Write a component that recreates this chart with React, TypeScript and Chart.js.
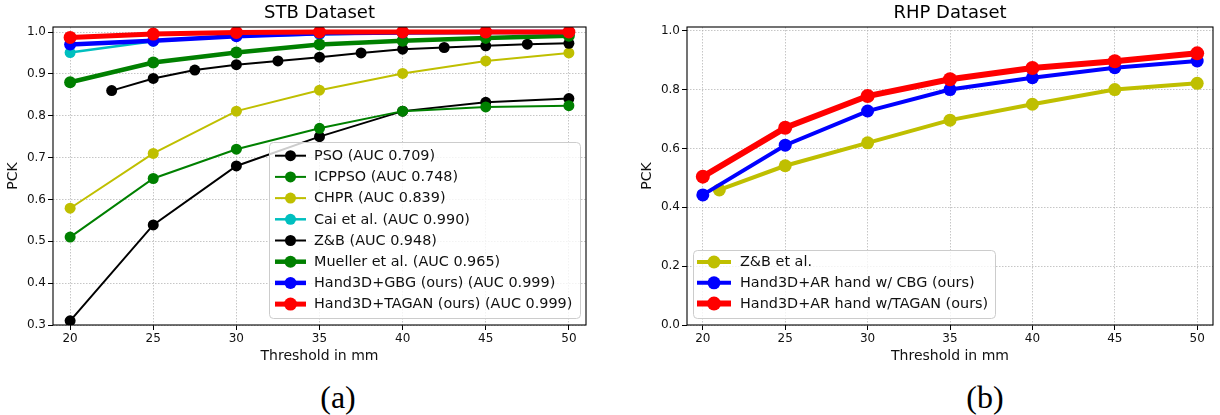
import React, { useEffect, useRef } from "react";
import { Chart, registerables } from "chart.js";

Chart.register(...registerables);

// ---------- data: STB (left) ----------
const stbThresholds = [20, 25, 30, 35, 40, 45, 50];
const zbThresholds = [22.5, 25, 27.5, 30, 32.5, 35, 37.5, 40, 42.5, 45, 47.5, 50];
const psoValues = [0.31, 0.539, 0.68, 0.75, 0.811, 0.832, 0.841];
const icppsoValues = [0.51, 0.65, 0.72, 0.77, 0.811, 0.821, 0.824];
const chprValues = [0.579, 0.71, 0.811, 0.861, 0.901, 0.931, 0.95];
const caiValues = [0.951, 0.978, 0.99, 0.994, 0.998, 0.999, 1.0];
const zbValues = [0.86, 0.889, 0.909, 0.922, 0.931, 0.94, 0.95, 0.959, 0.963, 0.967, 0.971, 0.973];
const muellerValues = [0.88, 0.927, 0.951, 0.97, 0.979, 0.986, 0.991];
const gbgValues = [0.97, 0.979, 0.99, 0.997, 0.999, 1.0, 1.0];
const taganValues = [0.987, 0.995, 0.999, 1.0, 1.0, 1.0, 1.0];
const stbYTicks = [0.3, 0.4, 0.5, 0.6, 0.7, 0.8, 0.9, 1.0];

// ---------- data: RHP (right) ----------
const rhpThresholds = [20, 25, 30, 35, 40, 45, 50];
const rhpZbThresholds = [21, 25, 30, 35, 40, 45, 50];
const rhpZbValues = [0.459, 0.541, 0.619, 0.696, 0.75, 0.8, 0.821];
const rhpCbgValues = [0.442, 0.611, 0.727, 0.8, 0.84, 0.874, 0.897];
const rhpTaganValues = [0.504, 0.67, 0.778, 0.835, 0.873, 0.896, 0.923];
const rhpYTicks = [0.0, 0.2, 0.4, 0.6, 0.8, 1.0];

const xTicks = [20, 25, 30, 35, 40, 45, 50];

const FONT = "'DejaVu Sans', sans-serif";
const TXT = "#111";

type Series = { label: string; xs: number[]; ys: number[]; color: string; lw: number; r: number };

const stbSeries: Series[] = [
  { label: "PSO (AUC 0.709)", xs: stbThresholds, ys: psoValues, color: "#000000", lw: 2, r: 5.5 },
  { label: "ICPPSO (AUC 0.748)", xs: stbThresholds, ys: icppsoValues, color: "#008000", lw: 2, r: 5.5 },
  { label: "CHPR (AUC 0.839)", xs: stbThresholds, ys: chprValues, color: "#bfbf00", lw: 2, r: 5.5 },
  { label: "Cai et al. (AUC 0.990)", xs: stbThresholds, ys: caiValues, color: "#00bfbf", lw: 2.5, r: 5.5 },
  { label: "Z&B (AUC 0.948)", xs: zbThresholds, ys: zbValues, color: "#000000", lw: 2, r: 5.5 },
  { label: "Mueller et al. (AUC 0.965)", xs: stbThresholds, ys: muellerValues, color: "#008000", lw: 4.5, r: 6 },
  { label: "Hand3D+GBG (ours) (AUC 0.999)", xs: stbThresholds, ys: gbgValues, color: "#0000ff", lw: 4.5, r: 6 },
  { label: "Hand3D+TAGAN (ours) (AUC 0.999)", xs: stbThresholds, ys: taganValues, color: "#ff0000", lw: 5, r: 6.5 },
];

const rhpSeries: Series[] = [
  { label: "Z&B et al.", xs: rhpZbThresholds, ys: rhpZbValues, color: "#bfbf00", lw: 4, r: 6.5 },
  { label: "Hand3D+AR hand w/ CBG (ours)", xs: rhpThresholds, ys: rhpCbgValues, color: "#0000ff", lw: 4, r: 6.5 },
  { label: "Hand3D+AR hand w/TAGAN (ours)", xs: rhpThresholds, ys: rhpTaganValues, color: "#ff0000", lw: 6, r: 7 },
];

type LegendBox = { x0: number; y0: number; x1: number; y1: number; row0: number; step: number; hx0: number; hx1: number; tx: number; size: number };

const framePlugin = {
  id: "frameAndLegend",
  afterDraw(chart: any) {
    const { ctx, chartArea: a } = chart;
    ctx.save();
    ctx.strokeStyle = "#000";
    ctx.lineWidth = 1.1;
    ctx.strokeRect(a.left, a.top, a.right - a.left, a.bottom - a.top);
    const lg: LegendBox | undefined = chart.options.plugins.customLegend;
    if (lg) {
      const r = 4;
      ctx.beginPath();
      ctx.moveTo(lg.x0 + r, lg.y0);
      ctx.arcTo(lg.x1, lg.y0, lg.x1, lg.y1, r);
      ctx.arcTo(lg.x1, lg.y1, lg.x0, lg.y1, r);
      ctx.arcTo(lg.x0, lg.y1, lg.x0, lg.y0, r);
      ctx.arcTo(lg.x0, lg.y0, lg.x1, lg.y0, r);
      ctx.closePath();
      ctx.fillStyle = "rgba(255,255,255,0.8)";
      ctx.fill();
      ctx.strokeStyle = "#cccccc";
      ctx.lineWidth = 1;
      ctx.stroke();
      chart.data.datasets.forEach((ds: any, i: number) => {
        const y = lg.row0 + i * lg.step;
        ctx.beginPath();
        ctx.strokeStyle = ds.borderColor;
        ctx.lineWidth = ds.borderWidth;
        ctx.moveTo(lg.hx0, y);
        ctx.lineTo(lg.hx1, y);
        ctx.stroke();
        ctx.beginPath();
        ctx.fillStyle = ds.borderColor;
        ctx.arc((lg.hx0 + lg.hx1) / 2, y, ds.pointRadius, 0, Math.PI * 2);
        ctx.fill();
        ctx.fillStyle = TXT;
        ctx.font = `${lg.size}px ${FONT}`;
        ctx.textBaseline = "middle";
        ctx.textAlign = "left";
        ctx.fillText(ds.label, lg.tx, y + 0.5);
      });
    }
    ctx.restore();
  },
};

function buildConfig(p: {
  title: string;
  series: Series[];
  xMin: number;
  xMax: number;
  yMin: number;
  yMax: number;
  yTicks: number[];
  padRight: number;
  legend: LegendBox;
}): any {
  const n = p.series.length;
  const tickFont = { family: FONT, size: 12 };
  const gridCfg = { color: "rgba(176,176,176,0.9)", lineWidth: 0.8, tickColor: "#000", tickLength: 5, tickWidth: 1 };
  return {
    type: "line",
    data: {
      datasets: p.series.map((s, i) => ({
        label: s.label,
        data: s.xs.map((x, j) => ({ x, y: s.ys[j] })),
        borderColor: s.color,
        backgroundColor: s.color,
        pointBackgroundColor: s.color,
        pointBorderColor: s.color,
        borderWidth: s.lw,
        pointRadius: s.r,
        pointHoverRadius: s.r,
        pointBorderWidth: 0,
        fill: false,
        tension: 0,
        order: n - 1 - i,
      })),
    },
    options: {
      animation: false,
      responsive: false,
      maintainAspectRatio: false,
      events: [],
      layout: { padding: { left: 0, right: p.padRight, top: 0, bottom: 0 } },
      plugins: {
        legend: { display: false },
        tooltip: { enabled: false },
        title: {
          display: true,
          text: p.title,
          fullSize: false,
          color: "#000",
          font: { family: FONT, size: 18, weight: "normal", lineHeight: 1.2 },
          padding: { top: 3, bottom: 2.4 },
        },
        customLegend: p.legend,
      },
      scales: {
        x: {
          type: "linear",
          min: p.xMin,
          max: p.xMax,
          afterFit: (s: any) => {
            s.height = 40;
          },
          afterBuildTicks: (s: any) => {
            s.ticks = xTicks.map((v) => ({ value: v }));
          },
          ticks: { font: tickFont, color: TXT, padding: 2, maxRotation: 0, autoSkip: false, callback: (v: any) => String(v) },
          grid: gridCfg,
          border: { display: false, dash: [1.5, 1.5] },
          title: { display: true, text: "Threshold in mm", color: TXT, font: { family: FONT, size: 14 }, padding: { top: 2, bottom: 0 } },
        },
        y: {
          type: "linear",
          min: p.yMin,
          max: p.yMax,
          afterFit: (s: any) => {
            s.width = 53;
          },
          afterBuildTicks: (s: any) => {
            s.ticks = p.yTicks.map((v) => ({ value: v }));
          },
          ticks: { font: tickFont, color: TXT, padding: 2, autoSkip: false, callback: (v: any) => Number(v).toFixed(1) },
          grid: gridCfg,
          border: { display: false, dash: [1.5, 1.5] },
          title: { display: true, text: "PCK", color: TXT, font: { family: FONT, size: 14 }, padding: { top: 5, bottom: 0 } },
        },
      },
    },
    plugins: [framePlugin],
  };
}

function ChartCanvas(props: { config: any; left: number; width: number; height: number }) {
  const ref = useRef<HTMLCanvasElement | null>(null);
  useEffect(() => {
    if (!ref.current) return;
    const chart = new Chart(ref.current, props.config);
    return () => chart.destroy();
  }, []);
  return (
    <canvas
      ref={ref}
      width={props.width}
      height={props.height}
      style={{ position: "absolute", left: props.left, top: 0, width: props.width, height: props.height }}
    />
  );
}

const stbConfig = buildConfig({
  title: "STB Dataset",
  series: stbSeries,
  xMin: 18.97,
  xMax: 51.03,
  yMin: 0.3,
  yMax: 1.012,
  yTicks: stbYTicks,
  padRight: 14,
  legend: { x0: 269.5, y0: 142.5, x1: 580.5, y1: 318.5, row0: 155.7, step: 21.2, hx0: 275, hx1: 306, tx: 314, size: 14.4 },
});

const rhpConfig = buildConfig({
  title: "RHP Dataset",
  series: rhpSeries,
  xMin: 19.04,
  xMax: 50.96,
  yMin: 0,
  yMax: 1.0125,
  yTicks: rhpYTicks,
  padRight: 2,
  legend: { x0: 59.5, y0: 250.5, x1: 361.5, y1: 318.5, row0: 262, step: 20.8, hx0: 63, hx1: 97, tx: 106, size: 14.4 },
});

export default function App() {
  const caption: React.CSSProperties = {
    position: "absolute",
    top: 397,
    transform: "translate(-50%, -50%)",
    fontFamily: "'Liberation Serif', serif",
    fontSize: 32,
    lineHeight: "32px",
    color: "#000",
    whiteSpace: "nowrap",
  };
  return (
    <div style={{ position: "fixed", left: 0, top: 0, width: 1220, height: 415, background: "#fff", overflow: "hidden" }}>
      <ChartCanvas config={stbConfig} left={0} width={600} height={365} />
      <ChartCanvas config={rhpConfig} left={634} width={586} height={365} />
      <div style={{ ...caption, left: 338 }}>(a)</div>
      <div style={{ ...caption, left: 985 }}>(b)</div>
    </div>
  );
}
